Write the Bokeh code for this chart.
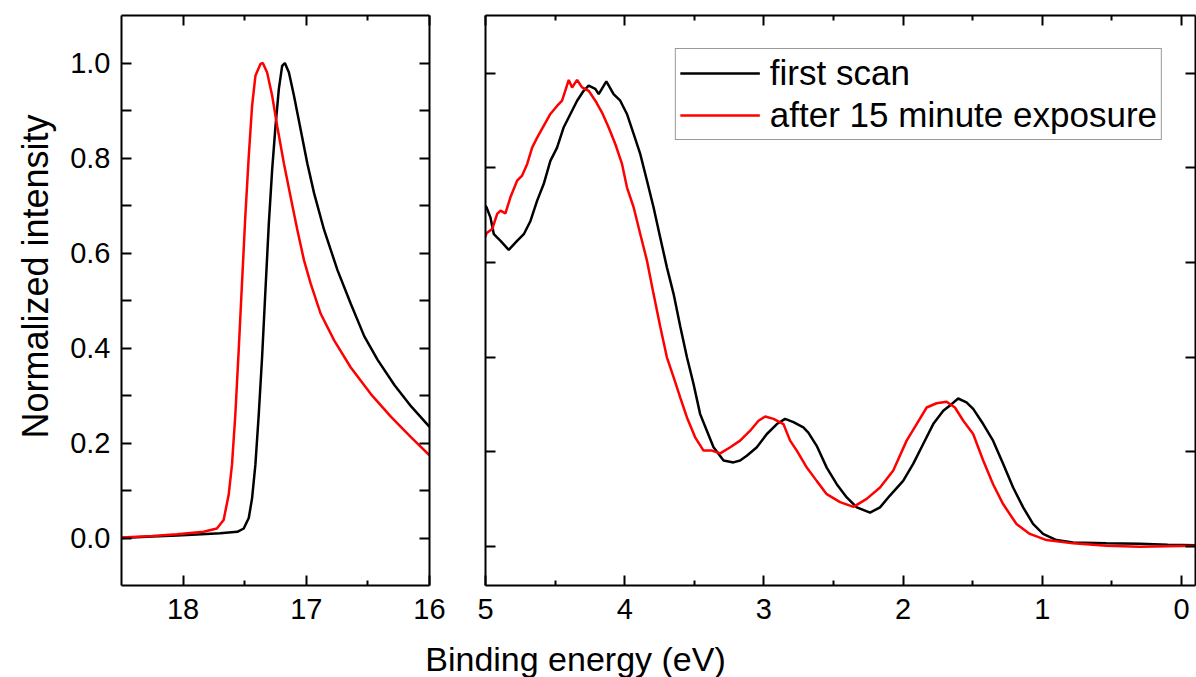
from bokeh.plotting import figure
from bokeh.models import (Range1d, FixedTicker, PrintfTickFormatter, CustomJSTickFormatter,
                          LinearAxis, Legend, LegendItem, Title, Label)
from bokeh.layouts import row, column
from bokeh.embed import file_html
from bokeh.resources import INLINE

FONT = "Liberation Sans"

# ---------------- data ----------------
# Left panel: secondary-electron cutoff region
cutoff_energy_first = [18.5, 18.25, 18.05, 17.85, 17.70, 17.56, 17.508, 17.467, 17.44, 17.413,
                       17.386, 17.359, 17.332, 17.304, 17.277, 17.25, 17.223, 17.196, 17.174,
                       17.141, 17.1, 17.046, 16.992, 16.937, 16.856, 16.747, 16.639, 16.53,
                       16.421, 16.285, 16.149, 16.0]
cutoff_int_first = [0.0, 0.003, 0.005, 0.008, 0.010, 0.013, 0.020, 0.042, 0.084, 0.155,
                    0.26, 0.38, 0.52, 0.663, 0.776, 0.867, 0.945, 0.994, 1.0,
                    0.98, 0.931, 0.86, 0.789, 0.726, 0.649, 0.564, 0.493, 0.425,
                    0.375, 0.322, 0.277, 0.234]

cutoff_energy_exposed = [18.5, 18.25, 18.05, 17.834, 17.726, 17.671, 17.63, 17.603, 17.576,
                         17.549, 17.522, 17.495, 17.467, 17.44, 17.413, 17.372, 17.353, 17.318,
                         17.277, 17.236, 17.182, 17.128, 17.073, 17.019, 16.965, 16.883, 16.774,
                         16.639, 16.476, 16.312, 16.149, 16.0]
cutoff_int_exposed = [0.001, 0.004, 0.008, 0.013, 0.020, 0.038, 0.091, 0.155, 0.26,
                      0.394, 0.536, 0.677, 0.804, 0.91, 0.973, 0.998, 1.0, 0.98,
                      0.931, 0.867, 0.789, 0.719, 0.649, 0.585, 0.536, 0.472, 0.416,
                      0.359, 0.303, 0.255, 0.212, 0.174]

# Right panel: valence band region
vb_energy_first = [5.0, 4.993, 4.964, 4.94, 4.892, 4.833, 4.773, 4.725, 4.677, 4.629, 4.582,
                   4.534, 4.486, 4.438, 4.39, 4.342, 4.295, 4.259, 4.211, 4.187, 4.132, 4.08,
                   4.032, 3.984, 3.936, 3.888, 3.84, 3.793, 3.745, 3.697, 3.649, 3.601, 3.553,
                   3.506, 3.458, 3.41, 3.362, 3.29, 3.219, 3.171, 3.123, 3.051, 2.979, 2.907,
                   2.848, 2.788, 2.717, 2.681, 2.621, 2.549, 2.477, 2.405, 2.333, 2.238, 2.166,
                   2.095, 2.0, 1.928, 1.856, 1.784, 1.712, 1.652, 1.605, 1.545, 1.497, 1.425,
                   1.354, 1.282, 1.21, 1.138, 1.067, 0.995, 0.899, 0.78, 0.54, 0.30, 0.1, -0.1]
vb_int_first = [0.72, 0.717, 0.695, 0.66, 0.646, 0.627, 0.646, 0.66, 0.688, 0.731, 0.766,
                0.815, 0.843, 0.886, 0.914, 0.942, 0.963, 0.974, 0.967, 0.956, 0.983, 0.956,
                0.942, 0.914, 0.872, 0.829, 0.773, 0.717, 0.653, 0.59, 0.534, 0.465, 0.40,
                0.344, 0.28, 0.245, 0.21, 0.182, 0.178, 0.182, 0.192, 0.21, 0.238, 0.259,
                0.27, 0.263, 0.252, 0.241, 0.213, 0.167, 0.132, 0.104, 0.083, 0.072, 0.083,
                0.108, 0.139, 0.175, 0.217, 0.259, 0.287, 0.301, 0.313, 0.305, 0.291, 0.259,
                0.224, 0.175, 0.125, 0.083, 0.048, 0.027, 0.014, 0.009, 0.007, 0.006, 0.004, 0.003]

vb_energy_exposed = [5.0, 4.993, 4.952, 4.916, 4.892, 4.857, 4.821, 4.773, 4.737, 4.701, 4.665,
                     4.629, 4.582, 4.534, 4.486, 4.45, 4.402, 4.378, 4.342, 4.306, 4.259, 4.211,
                     4.163, 4.116, 4.067, 4.019, 3.984, 3.936, 3.888, 3.84, 3.793, 3.745, 3.697,
                     3.649, 3.601, 3.553, 3.494, 3.434, 3.374, 3.314, 3.242, 3.171, 3.099, 3.039,
                     2.991, 2.931, 2.86, 2.812, 2.764, 2.692, 2.621, 2.549, 2.453, 2.357, 2.262,
                     2.166, 2.071, 1.975, 1.903, 1.831, 1.76, 1.688, 1.628, 1.568, 1.497, 1.425,
                     1.354, 1.282, 1.186, 1.09, 0.97, 0.78, 0.54, 0.30, 0.1, -0.1]
vb_int_exposed = [0.655, 0.662, 0.671, 0.703, 0.71, 0.704, 0.738, 0.773, 0.784, 0.808, 0.843,
                  0.864, 0.889, 0.914, 0.931, 0.942, 0.986, 0.97, 0.986, 0.97, 0.963, 0.942,
                  0.917, 0.886, 0.85, 0.808, 0.759, 0.717, 0.66, 0.604, 0.534, 0.465, 0.40,
                  0.358, 0.315, 0.273, 0.231, 0.203, 0.203, 0.197, 0.21, 0.224, 0.245, 0.266,
                  0.275, 0.27, 0.259, 0.224, 0.203, 0.167, 0.139, 0.111, 0.094, 0.084, 0.101,
                  0.125, 0.161, 0.224, 0.259, 0.294, 0.303, 0.306, 0.294, 0.266, 0.238, 0.182,
                  0.132, 0.09, 0.048, 0.027, 0.014, 0.007, 0.002, 0.0, 0.001, 0.002]

series_labels = ["first scan", "after 15 minute exposure"]
left_xticks = [16, 17, 18]
left_xminor = [16.5, 17.5]
right_xticks = [0, 1, 2, 3, 4, 5]
right_xminor = [0.5, 1.5, 2.5, 3.5, 4.5]
yticks = [0.0, 0.2, 0.4, 0.6, 0.8, 1.0]
yminor = [0.1, 0.3, 0.5, 0.7, 0.9]
y_label = "Normalized intensity"
x_label = "Binding energy (eV)"

BLACK = "#000000"
RED = "#ff0000"
LW = 2.5


def style_axis(ax, major_in, minor_in, labels=True, minor=True, standoff=11):
    ax.axis_line_width = 2
    ax.axis_line_color = BLACK
    ax.major_tick_in = major_in
    ax.major_tick_out = 0
    ax.major_tick_line_width = 2
    ax.major_tick_line_color = BLACK
    ax.minor_tick_in = minor_in
    ax.minor_tick_out = 0
    ax.minor_tick_line_width = 2
    ax.minor_tick_line_color = BLACK if minor else None
    ax.major_label_text_font = FONT
    ax.major_label_text_color = BLACK
    if labels:
        ax.major_label_text_font_size = "29px"
        ax.major_label_standoff = standoff
    else:
        ax.major_label_text_font_size = "1px"
        ax.major_label_standoff = 0


def blank():
    return CustomJSTickFormatter(code="return ''")


common = dict(height=630, output_backend="svg", toolbar_location=None, title=None,
              x_axis_location=None, y_axis_location=None, min_border_top=15,
              min_border_bottom=45, background_fill_color="white", border_fill_color="white")

# ---------------- left panel ----------------
p1 = figure(width=457, x_range=Range1d(18.5, 16.0), y_range=Range1d(-0.1, 1.1),
            min_border_left=121, min_border_right=28, **common)
p1.outline_line_color = None

ax = LinearAxis(ticker=FixedTicker(ticks=left_xticks, minor_ticks=left_xminor),
                formatter=PrintfTickFormatter(format="%d"))
style_axis(ax, 10, 5, standoff=13)
p1.add_layout(ax, "below")
ax = LinearAxis(ticker=FixedTicker(ticks=left_xticks, minor_ticks=left_xminor), formatter=blank())
style_axis(ax, 10, 5, labels=False)
p1.add_layout(ax, "above")
ax = LinearAxis(ticker=FixedTicker(ticks=yticks, minor_ticks=yminor),
                formatter=PrintfTickFormatter(format="%.1f"))
style_axis(ax, 10, 10, standoff=11)
p1.add_layout(ax, "left")
ax = LinearAxis(ticker=FixedTicker(ticks=yticks, minor_ticks=yminor), formatter=blank())
style_axis(ax, 10, 10, labels=False)
p1.add_layout(ax, "right")

ytitle = Title(text=y_label, align="left", offset=147, standoff=24, text_font=FONT,
               text_font_size="36px", text_font_style="normal", text_color=BLACK)
p1.add_layout(ytitle, "left")

p1.line(cutoff_energy_first, cutoff_int_first, line_color=BLACK, line_width=LW)
p1.line(cutoff_energy_exposed, cutoff_int_exposed, line_color=RED, line_width=LW)
p1.grid.visible = False

# ---------------- right panel ----------------
p2 = figure(width=739, x_range=Range1d(5.0, -0.1), y_range=Range1d(-0.082, 1.122),
            min_border_left=28, min_border_right=1, **common)
p2.outline_line_color = None

ax = LinearAxis(ticker=FixedTicker(ticks=right_xticks, minor_ticks=right_xminor),
                formatter=PrintfTickFormatter(format="%d"))
style_axis(ax, 10, 5, standoff=13)
p2.add_layout(ax, "below")
ax = LinearAxis(ticker=FixedTicker(ticks=right_xticks, minor_ticks=right_xminor), formatter=blank())
style_axis(ax, 10, 5, labels=False)
p2.add_layout(ax, "above")
for side in ("left", "right"):
    ax = LinearAxis(ticker=FixedTicker(ticks=yticks, minor_ticks=[]), formatter=blank())
    style_axis(ax, 10, 0, labels=False, minor=False)
    p2.add_layout(ax, side)

r1 = p2.line(vb_energy_first, vb_int_first, line_color=BLACK, line_width=LW)
r2 = p2.line(vb_energy_exposed, vb_int_exposed, line_color=RED, line_width=LW)
p2.grid.visible = False

legend = Legend(items=[LegendItem(label=series_labels[0], renderers=[r1]),
                       LegendItem(label=series_labels[1], renderers=[r2])],
                location="top_right", margin=33, padding=4, spacing=2,
                glyph_width=80, glyph_height=36, label_height=36, label_standoff=10,
                label_text_font=FONT, label_text_font_size="35px", label_text_color=BLACK,
                border_line_color="#333333", border_line_width=1,
                background_fill_color="white", background_fill_alpha=1.0)
p2.add_layout(legend)

# ---------------- shared x-axis label strip ----------------
p3 = figure(width=1196, height=47, x_range=Range1d(0, 1196), y_range=Range1d(0, 47),
            output_backend="svg", toolbar_location=None, title=None,
            x_axis_location=None, y_axis_location=None, min_border=0,
            background_fill_color="white", border_fill_color="white")
p3.outline_line_color = None
p3.grid.visible = False
p3.add_layout(Label(x=575, y=19, text=x_label, text_align="center", text_baseline="middle",
                    text_font=FONT, text_font_size="34px", text_color=BLACK))

layout = column(row(p1, p2), p3)

with open("out.html", "w") as f:
    f.write(file_html(layout, INLINE))
